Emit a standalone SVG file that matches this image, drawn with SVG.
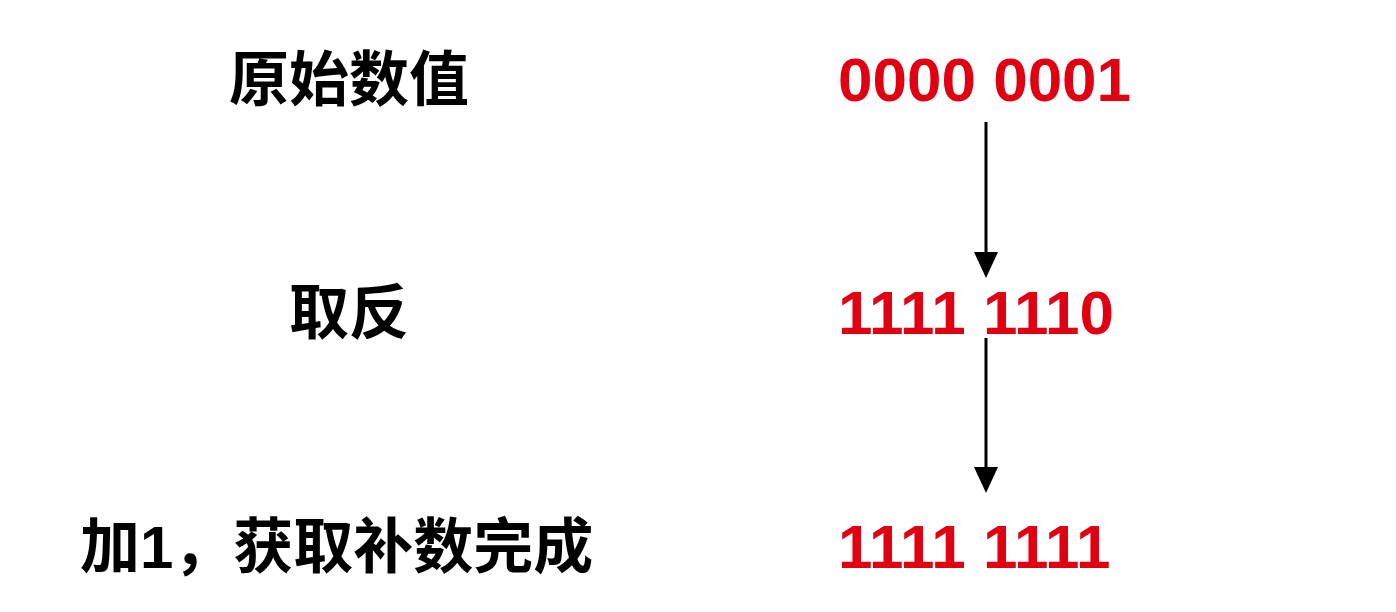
<svg xmlns="http://www.w3.org/2000/svg" width="1396" height="612" viewBox="0 0 1396 612">
<style>
.l{font-family:"Liberation Sans","Noto Sans CJK SC",sans-serif;font-weight:bold;font-size:60px;fill:#000}
.v{font-family:"Liberation Sans",sans-serif;font-weight:bold;font-size:62px;fill:#e00012}
.c{stroke:#000;stroke-width:3;fill:none}
</style>
<defs><marker id="a" markerWidth="10" markerHeight="10" refX="8" refY="5" orient="auto" markerUnits="userSpaceOnUse" viewBox="0 0 10 10"><path d="M0,0L10,5L0,10z" fill="#000"/></marker></defs>
<rect width="1396" height="612" fill="#fff"/>
<g id="n1"><text class="l" x="349" y="101" text-anchor="middle">原始数值</text><text class="v" x="838" y="101">0000 0001</text></g>
<g id="n2"><text class="l" x="349" y="334" text-anchor="middle">取反</text><text class="v" x="838" y="334">1111 1110</text></g>
<g id="n3"><text class="l" x="80" y="568">加1，获取补数完成</text><text class="v" x="838" y="568">1111 1111</text></g>
<g id="connectors">
<line class="c" x1="986" y1="122" x2="986" y2="255"/><path d="M974,252L998,252L986,278z"/>
<line class="c" x1="986" y1="338" x2="986" y2="470"/><path d="M974,467L998,467L986,493z"/>
</g>
</svg>
